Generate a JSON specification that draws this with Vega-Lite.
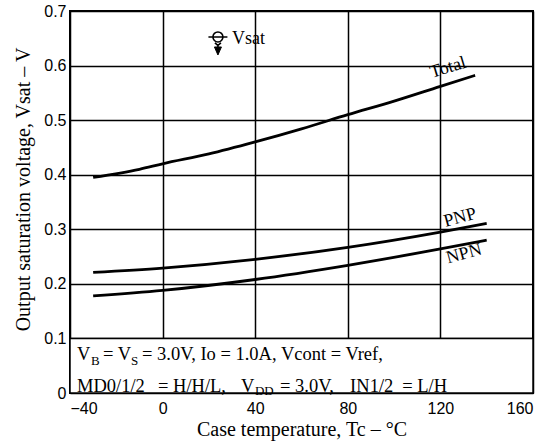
{
  "$schema": "https://vega.github.io/schema/vega-lite/v6.json",
  "width": 463,
  "height": 382,
  "autosize": "none",
  "padding": {"left": 70, "top": 11, "right": 20, "bottom": 55},
  "background": "white",
  "config": {
    "view": {"stroke": "black", "strokeWidth": 2},
    "axis": {"grid": true, "domainColor": "black", "gridColor": "black", "gridOpacity": 1, "gridWidth": 1.5, "tickColor": "black", "labelColor": "black", "titleColor": "black", "labelFont": "Liberation Sans", "labelFontSize": 16, "titleFont": "Liberation Serif", "titleFontSize": 20, "titleFontWeight": "normal"}
  },
  "datasets": {
    "curves": [
      {"series": "Total", "t": -30, "v": 0.395},
      {"series": "Total", "t": -10, "v": 0.41},
      {"series": "Total", "t": 0, "v": 0.42},
      {"series": "Total", "t": 20, "v": 0.438},
      {"series": "Total", "t": 40, "v": 0.46},
      {"series": "Total", "t": 60, "v": 0.484},
      {"series": "Total", "t": 80, "v": 0.51},
      {"series": "Total", "t": 100, "v": 0.535},
      {"series": "Total", "t": 120, "v": 0.562},
      {"series": "Total", "t": 135, "v": 0.582},
      {"series": "PNP", "t": -30, "v": 0.221},
      {"series": "PNP", "t": 0, "v": 0.229},
      {"series": "PNP", "t": 40, "v": 0.245},
      {"series": "PNP", "t": 80, "v": 0.267},
      {"series": "PNP", "t": 120, "v": 0.295},
      {"series": "PNP", "t": 140, "v": 0.311},
      {"series": "NPN", "t": -30, "v": 0.178},
      {"series": "NPN", "t": 0, "v": 0.188},
      {"series": "NPN", "t": 40, "v": 0.208},
      {"series": "NPN", "t": 80, "v": 0.234},
      {"series": "NPN", "t": 120, "v": 0.264},
      {"series": "NPN", "t": 140, "v": 0.28}
    ],
    "vgrid": [{"t": 0}, {"t": 40}, {"t": 80}, {"t": 120}],
    "hgrid": [{"v": 0.1}, {"v": 0.2}, {"v": 0.3}, {"v": 0.4}, {"v": 0.5}, {"v": 0.6}]
  },
  "encoding": {
    "x": {"field": "t", "type": "quantitative", "scale": {"domain": [-40, 160], "nice": false}, "axis": {"grid": true, "values": [-40, 0, 40, 80, 120, 160], "title": "Case temperature, Tc – °C", "ticks": false, "labelPadding": 7, "titlePadding": 3, "domain": false}},
    "y": {"field": "v", "type": "quantitative", "scale": {"domain": [0, 0.7], "nice": false}, "axis": {"grid": true, "values": [0, 0.1, 0.2, 0.3, 0.4, 0.5, 0.6, 0.7], "labelExpr": "datum.value == 0 ? '0' : format(datum.value, '.1f')", "title": "Output saturation voltage, Vsat – V", "ticks": false, "labelPadding": 4, "titlePadding": 10, "titleY": 178, "domain": false}}
  },
  "layer": [
    {
      "data": {"name": "vgrid"},
      "mark": {"type": "rule", "color": "black", "strokeWidth": 1.5},
      "encoding": {"y": {"datum": 0}, "y2": {"datum": 0.7}}
    },
    {
      "data": {"name": "hgrid"},
      "mark": {"type": "rule", "color": "black", "strokeWidth": 1.5},
      "encoding": {"x": {"datum": -40}, "x2": {"datum": 160}}
    },
    {
      "data": {"values": [{"t0": -40, "t1": 160, "v0": 0, "v1": 0.1}]},
      "mark": {"type": "rect", "fill": "white", "stroke": "black", "strokeWidth": 1.5},
      "encoding": {
        "x": {"field": "t0", "type": "quantitative"},
        "x2": {"field": "t1"},
        "y": {"field": "v0", "type": "quantitative"},
        "y2": {"field": "v1"}
      }
    },
    {
      "data": {"name": "curves"},
      "mark": {"type": "line", "color": "black", "strokeWidth": 2.8, "interpolate": "monotone"},
      "encoding": {"detail": {"field": "series"}}
    },
    {
      "data": {"values": [{"label": "Total", "t": 123.3, "v": 0.596}]},
      "mark": {"type": "text", "font": "Liberation Serif", "fontSize": 18, "angle": 343, "color": "black"},
      "encoding": {"text": {"field": "label"}}
    },
    {
      "data": {"values": [{"label": "PNP", "t": 128.5, "v": 0.321}]},
      "mark": {"type": "text", "font": "Liberation Serif", "fontSize": 18, "angle": 345, "color": "black"},
      "encoding": {"text": {"field": "label"}}
    },
    {
      "data": {"values": [{"label": "NPN", "t": 130.2, "v": 0.2547}]},
      "mark": {"type": "text", "font": "Liberation Serif", "fontSize": 18, "angle": 345, "color": "black"},
      "encoding": {"text": {"field": "label"}}
    },
    {
      "data": {"values": [{"label": "Vsat", "t": 30, "v": 0.6395}]},
      "mark": {"type": "text", "font": "Liberation Serif", "fontSize": 18, "align": "left", "baseline": "alphabetic", "color": "black"},
      "encoding": {"text": {"field": "label"}}
    },
    {
      "data": {"values": [{"label": "Vsat", "t": 23.9, "v": 0.6524}]},
      "mark": {"type": "point", "shape": "M -0.5 0 A 0.5 0.5 0 1 1 0.5 0 A 0.5 0.5 0 1 1 -0.5 0 M -0.95 0 L 0.95 0 M -0.3 0.6 L 0 0.85 L 0.3 0.6 M 0 0.85 L 0 1.05", "size": 400, "filled": false, "stroke": "black", "strokeWidth": 1.6, "opacity": 1}
    },
    {
      "data": {"values": [{"label": "Vsat", "t": 23.9, "v": 0.6524}]},
      "mark": {"type": "point", "shape": "M -0.35 1.0 L 0.35 1.0 L 0 1.8 Z", "size": 400, "filled": true, "fill": "black", "stroke": "black", "strokeWidth": 1, "opacity": 1}
    },
    {
      "data": {"values": [
        {"label": "V", "t": -37.0, "v": 0.0596},
        {"label": "= V", "t": -25.7, "v": 0.0596},
        {"label": "= 3.0V, Io = 1.0A, Vcont = Vref,", "t": -8.9, "v": 0.0596},
        {"label": "MD0/1/2", "t": -37.0, "v": 0.0018},
        {"label": "= H/H/L,", "t": -2.0, "v": 0.0018},
        {"label": "V", "t": 33.9, "v": 0.0018},
        {"label": "= 3.0V,", "t": 50.7, "v": 0.0018},
        {"label": "IN1/2", "t": 81.0, "v": 0.0018},
        {"label": "= L/H", "t": 103.5, "v": 0.0018}
      ]},
      "mark": {"type": "text", "font": "Liberation Serif", "fontSize": 18.5, "align": "left", "baseline": "alphabetic", "color": "black"},
      "encoding": {"text": {"field": "label"}}
    },
    {
      "data": {"values": [
        {"label": "B", "t": -30.9, "v": 0.0522},
        {"label": "S", "t": -13.7, "v": 0.0522},
        {"label": "DD", "t": 39.9, "v": -0.0045}
      ]},
      "mark": {"type": "text", "font": "Liberation Serif", "fontSize": 13, "align": "left", "baseline": "alphabetic", "color": "black"},
      "encoding": {"text": {"field": "label"}}
    }
  ]
}
